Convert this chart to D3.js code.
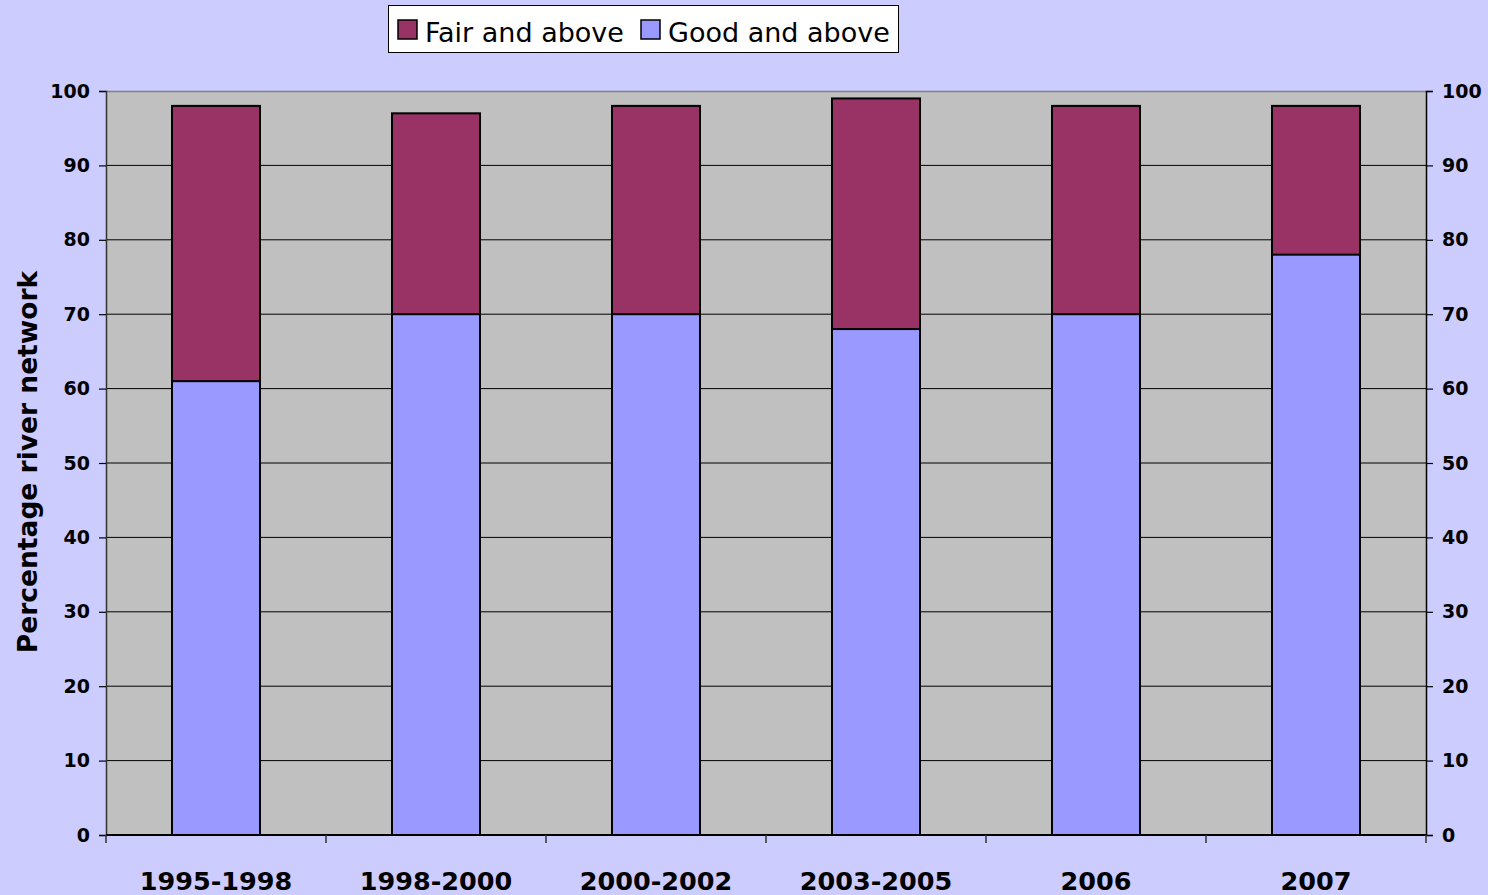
<!DOCTYPE html>
<html>
<head>
<meta charset="utf-8">
<script src="https://cdn.jsdelivr.net/npm/d3@7"></script>
<style>
  body { margin: 0; background: #ccccff; }
  svg { display: block; }
</style>
</head>
<body>
<div id="chart"></div>
<script>
// data
const categories = ["1995-1998", "1998-2000", "2000-2002", "2003-2005", "2006", "2007"];
const fairAndAbove = [98, 97, 98, 99, 98, 98];
const goodAndAbove = [61, 70, 70, 68, 70, 78];
const yTicks = [0, 10, 20, 30, 40, 50, 60, 70, 80, 90, 100];
const seriesNames = ["Fair and above", "Good and above"];
const seriesColors = ["#993366", "#9999ff"];

const W = 1488, H = 895;
const margin = {top: 91, right: 62, bottom: 60, left: 106};
const width = W - margin.left - margin.right;
const height = H - margin.top - margin.bottom;

const svg = d3.select("#chart").append("svg")
    .attr("width", W)
    .attr("height", H);

svg.append("rect")
    .attr("width", W)
    .attr("height", H)
    .attr("fill", "#ccccff");

const g = svg.append("g")
    .attr("transform", `translate(${margin.left},${margin.top})`);

const x = d3.scaleBand()
    .domain(categories)
    .range([0, width])
    .paddingInner(0.6)
    .paddingOuter(0.3);

const y = d3.scaleLinear()
    .domain([0, 100])
    .range([height, 0]);

// plot area
g.append("rect")
    .attr("width", width)
    .attr("height", height)
    .attr("fill", "#c0c0c0");

// gridlines
g.append("g")
    .selectAll("line")
    .data(yTicks.filter(d => d > 0 && d < 100))
    .join("line")
    .attr("x1", 0)
    .attr("x2", width)
    .attr("y1", d => y(d))
    .attr("y2", d => y(d))
    .attr("stroke", "#000")
    .attr("stroke-width", 1);

// top border (grey)
g.append("line")
    .attr("x1", 0).attr("x2", width)
    .attr("y1", 0.5).attr("y2", 0.5)
    .attr("stroke", "#808080")
    .attr("stroke-width", 1.5);

// overlapped bars: fair behind, good in front
g.append("g")
    .selectAll("rect")
    .data(categories)
    .join("rect")
    .attr("x", d => x(d))
    .attr("width", x.bandwidth())
    .attr("y", (d, i) => y(fairAndAbove[i]))
    .attr("height", (d, i) => y(0) - y(fairAndAbove[i]))
    .attr("fill", seriesColors[0])
    .attr("stroke", "#000")
    .attr("stroke-width", 2);

g.append("g")
    .selectAll("rect")
    .data(categories)
    .join("rect")
    .attr("x", d => x(d))
    .attr("width", x.bandwidth())
    .attr("y", (d, i) => y(goodAndAbove[i]))
    .attr("height", (d, i) => y(0) - y(goodAndAbove[i]))
    .attr("fill", seriesColors[1])
    .attr("stroke", "#000")
    .attr("stroke-width", 2);

// axes
const tickFont = "bold 19px 'DejaVu Sans', Verdana, sans-serif";

const yLeft = g.append("g")
    .call(d3.axisLeft(y).tickValues(yTicks).tickSize(7).tickPadding(9));
const yRight = g.append("g")
    .attr("transform", `translate(${width},0)`)
    .call(d3.axisRight(y).tickValues(yTicks).tickSize(7).tickPadding(9));

[yLeft, yRight].forEach(a => {
    a.select(".domain").attr("stroke", "#000").attr("stroke-width", 1.5);
    a.selectAll(".tick line").attr("stroke", "#000").attr("stroke-width", 1.2);
    a.selectAll("text")
        .style("font", tickFont)
        .attr("fill", "#000");
});
yLeft.select(".domain").attr("stroke", "#333");

// bottom axis with ticks between categories
const xAxis = g.append("g")
    .attr("transform", `translate(0,${height})`);
xAxis.append("line")
    .attr("x1", 0).attr("x2", width)
    .attr("y1", 0).attr("y2", 0)
    .attr("stroke", "#000")
    .attr("stroke-width", 2);
xAxis.selectAll(".sep")
    .data(d3.range(categories.length + 1))
    .join("line")
    .attr("class", "sep")
    .attr("x1", i => i * width / categories.length)
    .attr("x2", i => i * width / categories.length)
    .attr("y1", 0)
    .attr("y2", 8)
    .attr("stroke", "#333")
    .attr("stroke-width", 1.5);
xAxis.selectAll(".cat")
    .data(categories)
    .join("text")
    .attr("class", "cat")
    .attr("x", d => x(d) + x.bandwidth() / 2)
    .attr("y", 55)
    .attr("text-anchor", "middle")
    .style("font", "bold 25.5px 'DejaVu Sans', Verdana, sans-serif")
    .text(d => d);

// y axis title
svg.append("text")
    .attr("transform", `translate(37,${margin.top + height / 2 - 1}) rotate(-90)`)
    .attr("text-anchor", "middle")
    .style("font", "bold 26.5px 'DejaVu Sans', Verdana, sans-serif")
    .text("Percentage river network");

// legend
const legend = svg.append("g")
    .attr("transform", "translate(388,5)");
legend.append("rect")
    .attr("x", 0.5).attr("y", 0.5)
    .attr("width", 510)
    .attr("height", 47)
    .attr("fill", "#fff")
    .attr("stroke", "#000")
    .attr("stroke-width", 1);

const legendX = [10, 253];
seriesNames.forEach((name, i) => {
    const item = legend.append("g")
        .attr("transform", `translate(${legendX[i]},0)`);
    item.append("rect")
        .attr("x", 0).attr("y", 15)
        .attr("width", 19).attr("height", 19)
        .attr("fill", seriesColors[i])
        .attr("stroke", "#000")
        .attr("stroke-width", 1.5);
    item.append("text")
        .attr("x", 27)
        .attr("y", 37)
        .style("font", "27px 'DejaVu Sans', sans-serif")
        .text(name);
});
</script>
</body>
</html>
